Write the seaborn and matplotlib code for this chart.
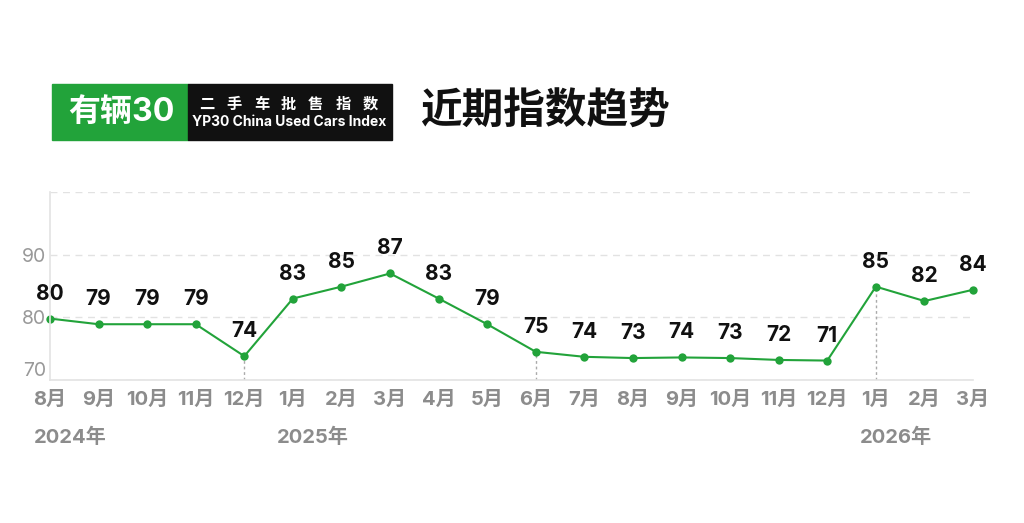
import pandas as pd
import seaborn as sns
import matplotlib.pyplot as plt
from matplotlib.patches import Rectangle

# Index values (read from point positions) and the labels shown above them
months = ["8月", "9月", "10月", "11月", "12月", "1月", "2月", "3月", "4月", "5月",
          "6月", "7月", "8月", "9月", "10月", "11月", "12月", "1月", "2月", "3月"]
index_values = [79.8, 78.9, 78.9, 78.9, 73.8, 83.0, 84.9, 87.0, 83.0, 78.9,
                74.5, 73.7, 73.5, 73.6, 73.5, 73.2, 73.1, 84.9, 82.6, 84.4]
value_labels = ["80", "79", "79", "79", "74", "83", "85", "87", "83", "79",
                "75", "74", "73", "74", "73", "72", "71", "85", "82", "84"]
year_labels = {0: "2024年", 5: "2025年", 17: "2026年"}
marker_lines = [4, 10, 17]

df = pd.DataFrame({"idx": range(len(months)), "value": index_values})

sns.set_theme(style="white")
plt.rcParams["font.family"] = ["Inter", "Noto Sans CJK SC", "DejaVu Sans"]

W, H = 1024, 523
fig = plt.figure(figsize=(W / 100, H / 100), dpi=100)
ax = fig.add_axes([50 / W, 1 - 380 / H, 923 / W, 188 / H])

GREEN = "#22a33a"
sns.lineplot(data=df, x="idx", y="value", ax=ax, color=GREEN, linewidth=1.5,
             marker="o", markersize=6, markeredgewidth=0, clip_on=False)

for i, (v, lab) in enumerate(zip(index_values, value_labels)):
    ax.annotate(lab, (i, v), xytext=(0, 18), textcoords="offset points",
                ha="center", va="center", fontsize=15, fontweight="bold",
                color="#111111")

ax.vlines([i for i in marker_lines], 70, [index_values[i] for i in marker_lines],
          colors="#aaaaaa", linestyles=(0, (2, 2)), linewidth=1, zorder=1)

for i, yl in year_labels.items():
    ax.annotate(yl, (i, 0), xycoords=("data", "axes fraction"),
                xytext=(-11.5, -41), textcoords="offset points",
                ha="left", va="center", fontsize=14.5, fontweight="bold",
                color="#8c8c8c", annotation_clip=False)

ax.set_xlim(0, len(months) - 1)
ax.set_ylim(70, 100)
ax.set_xticks(range(len(months)), months)
ax.set_yticks([70, 80, 90, 100], ["70", "80", "90", ""])
ax.tick_params(axis="x", length=0, pad=8, labelsize=14.5, labelcolor="#8c8c8c")
ax.tick_params(axis="y", length=0, pad=3, labelsize=14, labelcolor="#999999")
for t in ax.get_xticklabels():
    t.set_fontweight("bold")
ax.get_yticklabels()[0].set_verticalalignment("bottom")
ax.set_xlabel("")
ax.set_ylabel("")
ax.yaxis.grid(True, linestyle=(0, (5, 4)), color="#e2e2e2", linewidth=1)
ax.xaxis.grid(False)
for s in ["top", "right"]:
    ax.spines[s].set_visible(False)
for s in ["left", "bottom"]:
    ax.spines[s].set_color("#e3e3e3")
    ax.spines[s].set_linewidth(1.2)


def fx(px):
    return px / W


def fy(py):
    return 1 - py / H


# header badge
fig.add_artist(Rectangle((fx(52), fy(140)), fx(136), 56 / H, color=GREEN,
                         transform=fig.transFigure))
fig.add_artist(Rectangle((fx(188), fy(140)), fx(204), 56 / H, color="#111111",
                         transform=fig.transFigure))
fig.text(fx(121), fy(112), "有辆30", color="white", fontsize=23,
         fontweight="bold", ha="center", va="center")
for k, ch in enumerate("二手车批售指数"):
    fig.text(fx(207 + k * 27.2), fy(104), ch, color="white", fontsize=11,
             fontweight="bold", ha="center", va="center")
fig.text(fx(289), fy(122), "YP30 China Used Cars Index", color="white",
         fontsize=10, fontweight="bold", ha="center", va="center")
fig.text(fx(420), fy(112), "近期指数趋势", color="#111111", fontsize=30,
         fontweight="bold", ha="left", va="center")

fig.savefig("out.png", dpi=100, facecolor="white")
